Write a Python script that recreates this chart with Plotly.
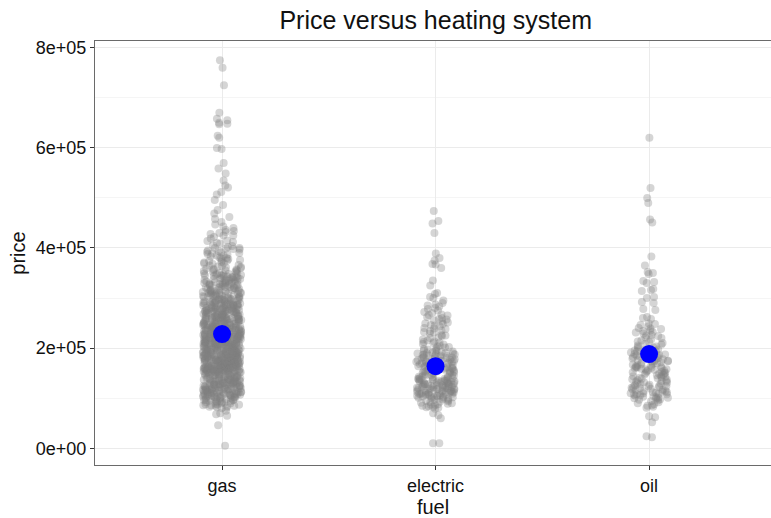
import plotly.graph_objects as go

# Heating fuel categories and house prices (in thousands of dollars)
fuel = ["gas", "electric", "oil"]

gas_k = [
    # upper tail
    775, 760, 725, 670, 658, 655, 650, 648, 647, 624, 620, 600, 598, 570, 559, 549, 535, 525,
    521, 512, 507, 496, 486, 476, 469, 462, 458, 452, 447, 443, 440, 436, 434, 432, 430,
    428, 425, 425, 422, 419, 415, 414, 410, 409, 405, 404, 402, 400, 400, 412,
    399, 398, 395, 394, 392, 390, 389, 388, 385, 385, 383, 380, 379, 378, 375, 375, 374, 372,
    370, 369, 368, 366, 365, 364, 362, 360, 359, 358, 357, 356, 355, 355, 354, 352, 351, 350,
    397, 387, 381, 376, 371, 363, 361, 353, 391,
    # 300k - 350k
    349, 318, 337, 304, 326, 342, 309, 331, 315, 347, 306, 339, 322, 313, 329, 301, 344, 327, 311, 335,
    323, 308, 348, 316, 333, 302, 340, 325, 312, 346, 319, 305, 336, 324, 310, 341, 328, 314, 300, 338,
    321, 307, 345, 317, 332, 303, 343, 326, 311, 334, 320, 309, 349, 330, 312, 340, 329, 305, 336, 322,
    313, 347, 327, 302, 338, 318, 331, 307, 345, 323, 310, 342, 316, 334, 304, 328, 348, 309, 321, 337,
    315, 330, 303, 344, 325, 310, 339, 320, 306, 333,
    # 250k - 300k
    299, 262, 285, 251, 274, 290, 258, 281, 267, 296, 255, 288, 270, 263, 279, 252, 293, 276, 260, 284,
    271, 257, 298, 265, 282, 253, 289, 275, 261, 295, 268, 254, 286, 273, 259, 291, 278, 264, 250, 287,
    272, 256, 297, 266, 280, 251, 292, 277, 262, 283, 269, 258, 294, 274, 260, 289, 279, 255, 285, 270,
    263, 298, 276, 252, 287, 268, 281, 257, 295, 273, 261, 290, 266, 284, 254, 278, 299, 259, 271, 286,
    265, 280, 253, 293, 275, 260, 288, 270, 256, 282, 267, 296, 250, 277, 262, 291, 274, 258, 285, 269,
    279, 264, 290, 255, 272, 287, 261, 297, 276, 252, 283, 268, 294, 259, 275, 289, 266, 280, 257, 299,
    271, 286, 260, 292, 274, 254, 281, 265, 295, 278, 262, 288, 250, 273, 284, 258, 297, 269, 277, 263,
    # 200k - 250k
    249, 212, 235, 201, 224, 240, 208, 231, 217, 246, 205, 238, 220, 213, 229, 202, 243, 226, 210, 234,
    221, 207, 248, 215, 232, 203, 239, 225, 211, 245, 218, 204, 236, 223, 209, 241, 228, 214, 200, 237,
    222, 206, 247, 216, 230, 201, 242, 227, 212, 233, 219, 208, 244, 224, 210, 239, 229, 205, 235, 220,
    213, 248, 226, 202, 237, 218, 231, 207, 245, 223, 211, 240, 216, 234, 204, 228, 249, 209, 221, 236,
    215, 230, 203, 243, 225, 210, 238, 220, 206, 232, 217, 246, 200, 227, 212, 241, 224, 208, 235, 219,
    229, 214, 240, 205, 222, 237, 211, 247, 226, 202, 233, 218, 244, 209, 225, 239, 216, 230, 207, 249,
    221, 236, 210, 242, 224, 204, 231, 215, 245, 228, 212, 238, 200, 223, 234, 208, 247, 219, 227, 213,
    218, 243, 206, 232, 225, 211, 239, 203, 248, 220, 214, 236, 209, 229, 201, 244, 217, 233, 222, 207,
    235, 212, 246, 219, 204, 230, 224, 241, 210, 237, 216, 227, 202, 249, 221, 213, 238, 226, 208, 242,
    # 150k - 200k
    199, 162, 185, 151, 174, 190, 158, 181, 167, 196, 155, 188, 170, 163, 179, 152, 193, 176, 160, 184,
    171, 157, 198, 165, 182, 153, 189, 175, 161, 195, 168, 154, 186, 173, 159, 191, 178, 164, 150, 187,
    172, 156, 197, 166, 180, 151, 192, 177, 162, 183, 169, 158, 194, 174, 160, 189, 179, 155, 185, 170,
    163, 198, 176, 152, 187, 168, 181, 157, 195, 173, 161, 190, 166, 184, 154, 178, 199, 159, 171, 186,
    165, 180, 153, 193, 175, 160, 188, 170, 156, 182, 167, 196, 150, 177, 162, 191, 174, 158, 185, 169,
    179, 164, 190, 155, 172, 187, 161, 197, 176, 152, 183, 168, 194, 159, 175, 189, 166, 180, 157, 199,
    171, 186, 160, 192, 174, 154, 181, 165, 195, 178, 162, 188, 150, 173, 184, 158, 197, 169, 177, 163,
    168, 193, 156, 182, 175, 161, 189, 153, 198, 170, 164, 186, 159, 179, 151, 194, 167, 183, 172, 157,
    185, 162, 196, 169, 154, 180, 174, 191, 160, 187, 166, 177, 152, 199, 171, 163, 188, 176, 158, 192,
    176, 159, 183, 165, 191, 170, 155, 186, 173, 161, 197, 168, 180, 153, 189, 175, 164, 194, 157, 181,
    # 100k - 150k
    149, 112, 135, 101, 124, 140, 108, 131, 117, 146, 105, 138, 120, 113, 129, 102, 143, 126, 110, 134,
    121, 107, 148, 115, 132, 103, 139, 125, 111, 145, 118, 104, 136, 123, 109, 141, 128, 114, 100, 137,
    122, 106, 147, 116, 130, 101, 142, 127, 112, 133, 119, 108, 144, 124, 110, 139, 129, 105, 135, 120,
    113, 148, 126, 102, 137, 118, 131, 107, 145, 123, 111, 140, 116, 134, 104, 128, 149, 109, 121, 136,
    115, 130, 103, 143, 125, 110, 138, 120, 106, 132, 117, 146, 100, 127, 112, 141, 124, 108, 135, 119,
    129, 114, 140, 105, 122, 137, 111, 147, 126, 102, 133, 118, 144, 109, 125, 139, 116, 130, 107, 149,
    121, 136, 110, 142, 124, 104, 131, 115, 145, 128, 112, 138, 118, 126, 133, 141, 119, 127, 146, 134,
    # lower tail
    99, 92, 85, 97, 88, 94, 81, 96, 90, 86, 98, 83, 93, 89, 95, 84, 91, 87, 99, 82,
    96, 90, 85, 94, 88, 97, 80, 92, 86, 95,
    75, 70, 68, 65, 46, 5,
]

electric_k = [
    474, 454, 449, 430, 389, 380, 375, 368, 367, 360, 335, 325, 310, 308, 302, 300, 290, 287, 283,
    267, 266, 255, 253, 251, 258, 262, 270, 278, 295, 285, 260, 275, 265, 257, 280, 272,
    # 200k - 250k
    249, 212, 235, 203, 224, 240, 208, 231, 217, 246, 205, 238, 220, 213, 229, 202, 243, 226, 210, 234,
    221, 207, 248, 215, 232, 201, 239, 225, 211, 245,
    # 150k - 200k
    199, 162, 185, 151, 174, 190, 158, 181, 167, 196, 155, 188, 170, 163, 179, 152, 193, 176, 160, 184,
    171, 157, 198, 165, 182, 153, 189, 175, 161, 195, 168, 154, 186, 173, 159, 191, 178, 164, 150, 187,
    172, 156, 197, 166, 180, 151, 192, 177, 162, 183, 169, 158, 194, 174, 160, 189, 179, 155, 185, 170,
    163, 176, 152, 187, 168, 181, 157, 173, 161, 190, 166, 184, 154, 178, 159,
    # 100k - 150k
    149, 112, 135, 101, 124, 140, 108, 131, 117, 146, 105, 138, 120, 113, 129, 102, 143, 126, 110, 134,
    121, 107, 148, 115, 132, 103, 139, 125, 111, 145, 118, 104, 136, 123, 109, 141, 128, 114, 100, 137,
    122, 106, 147, 116, 130, 101, 142, 127, 112, 133, 119, 108, 144, 124, 110, 139, 129, 105, 135, 120,
    113, 126, 102, 137, 118, 131, 107, 123, 111, 140, 116, 134, 104, 128, 109, 121, 136, 115, 125, 119,
    130, 114, 127, 106, 138, 117, 143, 122, 133, 111, 146, 120, 128, 103, 135,
    # lower tail
    99, 92, 85, 97, 88, 94, 81, 96, 90, 86, 98, 83, 93, 89, 95, 84, 91, 87, 82, 79,
    70, 66, 60, 10, 10,
]

oil_k = [
    620, 520, 500, 490, 457, 451, 383, 365, 352, 350, 348, 334, 332, 330, 318, 316, 314, 302, 300,
    292, 290, 278, 276, 262, 260, 258,
    # 200k - 250k
    249, 212, 235, 203, 224, 240, 208, 231, 217, 246, 205, 238, 220, 213, 229, 202, 243, 226, 210, 234,
    221, 207, 248, 215, 232, 201, 239, 225,
    # 150k - 200k
    199, 162, 185, 151, 174, 190, 158, 181, 167, 196, 155, 188, 170, 163, 179, 152, 193, 176, 160, 184,
    171, 157, 198, 165, 182, 153, 189, 175, 161, 195, 168, 154, 186, 173, 159, 191, 178, 164, 150, 187,
    172, 156, 197, 166, 180, 151, 192, 177, 162, 183, 169, 158, 194, 174, 160,
    # 100k - 150k
    149, 112, 135, 101, 124, 140, 108, 131, 117, 146, 105, 138, 120, 113, 129, 102, 143, 126, 110, 134,
    121, 107, 148, 115, 132, 103, 139, 125, 111, 145, 118, 104, 136, 123, 109, 141, 128, 114, 100, 137,
    122, 106, 147, 116, 130, 101, 142, 127, 112, 133, 119, 108, 144, 124, 110,
    # lower tail
    99, 92, 85, 97, 88, 94, 81, 96, 90, 86, 98, 83,
    64, 62, 52, 24, 22,
]

# Mean price per fuel type
mean_price = [228000, 164000, 188000]

y_tick_vals = [0, 200000, 400000, 600000, 800000]
y_tick_text = ["0e+00", "2e+05", "4e+05", "6e+05", "8e+05"]

price_k = {"gas": gas_k, "electric": electric_k, "oil": oil_k}
x_pts = []
y_pts = []
for f in fuel:
    x_pts += [f] * len(price_k[f])
    y_pts += [v * 1000 for v in price_k[f]]

FONT = "Liberation Sans, Arial, Helvetica, sans-serif"
GRID = "#EBEBEB"

fig = go.Figure()

# jittered individual houses (box hidden, only its points shown)
fig.add_trace(go.Box(
    x=x_pts, y=y_pts,
    boxpoints="all", jitter=1, pointpos=0, width=0.18,
    fillcolor="rgba(0,0,0,0)",
    line=dict(color="rgba(0,0,0,0)", width=0),
    marker=dict(color="rgb(127,127,127)", opacity=0.33, size=8, line=dict(width=0)),
    hoverinfo="skip", showlegend=False,
))

# mean price markers
fig.add_trace(go.Scatter(
    x=fuel, y=mean_price, mode="markers",
    marker=dict(color="blue", size=18, line=dict(width=0)),
    hoverinfo="skip", showlegend=False,
))

fig.update_layout(
    width=771, height=518,
    margin=dict(l=95, r=0, t=41, b=53),
    paper_bgcolor="white", plot_bgcolor="white",
    font=dict(family=FONT, color="#111111"),
    boxmode="overlay",
    title=dict(text="Price versus heating system", x=0.504, xref="paper",
               xanchor="center", y=0.961, yanchor="middle",
               font=dict(size=25, color="#111111")),
)

fig.update_xaxes(
    type="category", categoryorder="array", categoryarray=fuel,
    range=[-0.595, 2.571],
    showgrid=True, gridcolor=GRID, gridwidth=1,
    showline=True, mirror=True, linecolor="#6a6a6a", linewidth=1.3,
    ticks="outside", ticklen=4, tickcolor="#333333", tickwidth=1.3,
    tickfont=dict(size=18, color="#111111"),
    title=dict(text="fuel", font=dict(size=20, color="#111111"), standoff=3),
    zeroline=False,
)

fig.update_yaxes(
    range=[-33500, 813500],
    tickvals=y_tick_vals, ticktext=y_tick_text,
    showgrid=True, gridcolor=GRID, gridwidth=1,
    minor=dict(showgrid=True, gridcolor="#F5F5F5", gridwidth=1, dtick=100000, tick0=0),
    showline=True, linecolor="#6a6a6a", linewidth=1.3,
    ticks="outside", ticklen=4, tickcolor="#333333", tickwidth=1.3,
    tickfont=dict(size=18, color="#111111"),
    title=dict(text="price", font=dict(size=20, color="#111111"), standoff=4),
    zeroline=False,
)

fig.write_html("out.html")
